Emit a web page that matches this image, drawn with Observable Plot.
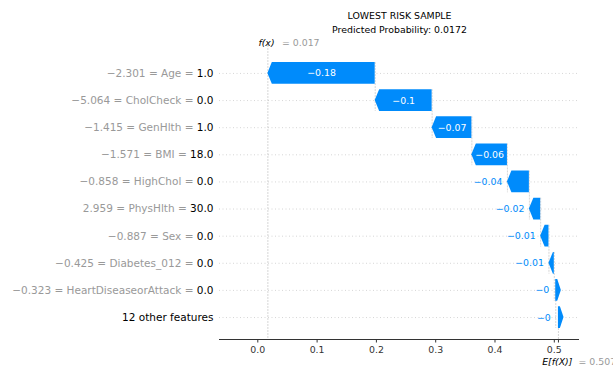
<!DOCTYPE html>
<html>
<head>
<meta charset="utf-8">
<script src="https://cdn.jsdelivr.net/npm/d3@7"></script>
<script src="https://cdn.jsdelivr.net/npm/@observablehq/plot@0.6"></script>
<style>
  body { margin: 0; background: #fff; }
  svg { font-family: "DejaVu Sans", sans-serif; }
</style>
</head>
<body>
<div id="chart"></div>
<script>
// SHAP waterfall for the lowest-risk sample
const title = "LOWEST RISK SAMPLE";
const subtitle = "Predicted Probability: 0.0172";
const features = ["Age", "CholCheck", "GenHlth", "BMI", "HighChol", "PhysHlth", "Sex", "Diabetes_012", "HeartDiseaseorAttack"];
const scaledValues = ["−2.301", "−5.064", "−1.415", "−1.571", "−0.858", "2.959", "−0.887", "−0.425", "−0.323"];
const rawValues = ["1.0", "0.0", "1.0", "18.0", "0.0", "30.0", "0.0", "0.0", "0.0"];
const otherLabel = "12 other features";
const shapValues = [-0.181, -0.096, -0.067, -0.060, -0.037, -0.019, -0.014, -0.009, -0.0025, -0.0045];
const baseValue = 0.507;
const fxValue = 0.017;
const xTicks = [0, 0.1, 0.2, 0.3, 0.4, 0.5];

const blue = "#008bfb";
const xDomain = [-0.0646, 0.5425];
const yDomain = [9.81, -1.03];
const half = 0.4;      // half bar height, in rows
const head = 0.0075;   // arrow head length, in data units
const labelSize = 10.5;

// text width helper so the grey part of a label ends where the black value starts
const ctx = document.createElement("canvas").getContext("2d");
ctx.font = `${labelSize}px "DejaVu Sans"`;
const textWidth = s => ctx.measureText(s).width;

// accumulate from the expected value at the bottom up to f(x) at the top
const rows = [];
let cum = baseValue;
for (let i = shapValues.length - 1; i >= 0; i--) {
  const v = shapValues[i];
  const named = i < features.length;
  rows[i] = {
    i, value: v, start: cum, end: cum + v,
    grey: named ? `${scaledValues[i]} = ${features[i]} =` : "",
    black: named ? rawValues[i] : otherLabel,
    shift: named ? textWidth(" " + rawValues[i]) : 0
  };
  cum += v;
}

// arrow outlines as (y, x1, x2) triples; tiny arrows collapse into a short sliver
const outline = rows.flatMap(r => {
  const lo = Math.min(r.start, r.end), hi = Math.max(r.start, r.end);
  if (Math.abs(r.value) >= head) {
    if (r.value < 0) return [
      {row: r.i, y: r.i - half, x1: lo + head, x2: hi},
      {row: r.i, y: r.i, x1: lo, x2: hi},
      {row: r.i, y: r.i + half, x1: lo + head, x2: hi}
    ];
    return [
      {row: r.i, y: r.i - half, x1: lo, x2: hi - head},
      {row: r.i, y: r.i, x1: lo, x2: hi},
      {row: r.i, y: r.i + half, x1: lo, x2: hi - head}
    ];
  }
  const w = head * 1.25;
  return [
    {row: r.i, y: r.i - half, x1: r.start, x2: r.start + 0.35 * w},
    {row: r.i, y: r.i, x1: r.start, x2: r.start + w},
    {row: r.i, y: r.i + half, x1: r.start, x2: r.start + 0.35 * w}
  ];
});

const fmt = v => {
  const s = Math.abs(v).toFixed(2).replace(/0+$/, "").replace(/\.$/, "");
  return (v < 0 ? "−" : "+") + s;
};
const inside = rows.filter(r => Math.abs(r.value) > 0.05);
const outside = rows.filter(r => Math.abs(r.value) <= 0.05);

const chart = Plot.plot({
  width: 613,
  height: 371,
  marginTop: 45,
  marginBottom: 32,
  marginLeft: 219,
  marginRight: 34,
  style: {fontFamily: "DejaVu Sans, sans-serif", fontSize: "9.4px", color: "#333", background: "white", overflow: "visible"},
  x: {domain: xDomain, label: null},
  y: {domain: yDomain, axis: null},
  marks: [
    // dotted row guides
    Plot.ruleY(rows, {y: "i", stroke: "#cccccc", strokeWidth: 0.8, strokeDasharray: "1,2.5"}),
    // connectors between consecutive arrows
    Plot.ruleX(rows.slice(0, -1), {x: "start", y1: d => d.i - half, y2: d => d.i + 1 + half, stroke: "#bbbbbb", strokeWidth: 0.6, strokeDasharray: "2,1"}),
    Plot.ruleX([fxValue], {stroke: "#bbbbbb", strokeWidth: 0.6, strokeDasharray: "2,1"}),
    Plot.ruleX([baseValue], {y1: yDomain[0], y2: yDomain[0] - (yDomain[0] - yDomain[1]) / 10, stroke: "#bbbbbb", strokeWidth: 0.6, strokeDasharray: "2,1"}),
    // arrows
    Plot.areaX(outline, {y: "y", x1: "x1", x2: "x2", z: "row", fill: blue, curve: "linear"}),
    // value labels
    Plot.text(inside, {x: d => (d.start + d.end) / 2, y: "i", text: d => fmt(d.value), fill: "white", fontSize: 9.4}),
    Plot.text(outside, {x: d => Math.min(d.start, d.end), y: "i", dx: -5, textAnchor: "end", text: d => fmt(d.value), fill: blue, fontSize: 9.4}),
    // feature labels: grey "scaled = name =" followed by the black feature value
    ...rows.filter(r => r.grey).map(r =>
      Plot.text([r], {y: "i", frameAnchor: "left", dx: -6 - r.shift, textAnchor: "end", text: "grey", fill: "#999999", fontSize: labelSize})
    ),
    Plot.text(rows, {y: "i", frameAnchor: "left", dx: -6, textAnchor: "end", text: "black", fill: "#000000", fontSize: labelSize}),
    // bottom axis
    Plot.ruleY([yDomain[0]], {stroke: "#333333", strokeWidth: 1}),
    Plot.axisX(xTicks, {tickFormat: d3.format(".1f"), tickSize: 3.5, tickPadding: 3, fontSize: 9.4, stroke: "#333333", fill: "#333333", label: null}),
    Plot.axisX([baseValue], {tickFormat: () => "", tickSize: 3.5, stroke: "#333333", label: null}),
    // expected value and prediction annotations
    Plot.text([baseValue], {x: d => d, frameAnchor: "bottom", dy: 25, dx: -16.3, textAnchor: "start", text: () => "E[f(X)]", fontStyle: "italic", fill: "#000000", fontSize: 9.4}),
    Plot.text([baseValue], {x: d => d, frameAnchor: "bottom", dy: 25, dx: 20, textAnchor: "start", text: d => "= " + d.toFixed(3), fill: "#999999", fontSize: 9.4}),
    Plot.text([fxValue], {x: d => d, frameAnchor: "top", dy: -6, dx: -9.5, textAnchor: "start", text: () => "f(x)", fontStyle: "italic", fill: "#000000", fontSize: 9.4}),
    Plot.text([fxValue], {x: d => d, frameAnchor: "top", dy: -6, dx: 14, textAnchor: "start", text: d => "= " + d.toFixed(3), fill: "#999999", fontSize: 9.4}),
    // title
    Plot.text([title], {frameAnchor: "top", dy: -33, text: d => d, fill: "#000000", fontSize: 9.4}),
    Plot.text([subtitle], {frameAnchor: "top", dy: -19.5, text: d => d, fill: "#000000", fontSize: 9.4})
  ]
});
document.getElementById("chart").append(chart);
</script>
</body>
</html>
